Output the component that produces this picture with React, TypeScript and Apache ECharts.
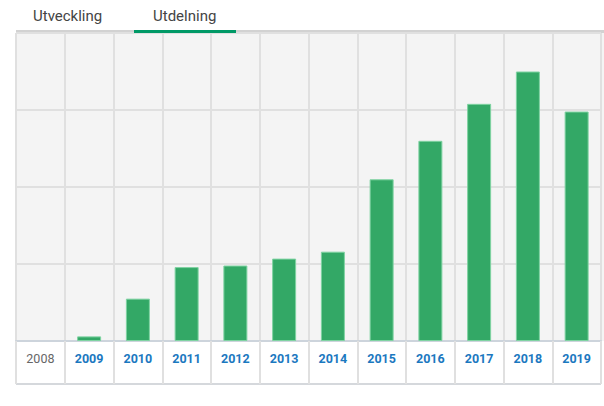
import React, { useEffect, useRef } from "react";
import * as echarts from "echarts";

const years = ["2008", "2009", "2010", "2011", "2012", "2013", "2014", "2015", "2016", "2017", "2018", "2019"];
const dividends = [null, 0.06, 0.55, 0.96, 0.98, 1.07, 1.16, 2.1, 2.6, 3.08, 3.5, 2.98];
const tabs = ["Utveckling", "Utdelning"];

export default function App() {
  const ref = useRef<HTMLDivElement>(null);
  useEffect(() => {
    const chart = echarts.init(ref.current!, null, { renderer: "svg" });
    chart.setOption({
      animation: false,
      grid: {
        left: 16,
        right: 3,
        top: 33,
        bottom: 65,
        show: true,
        backgroundColor: "#f4f4f4",
        borderWidth: 0,
      },
      xAxis: {
        type: "category",
        data: years,
        boundaryGap: true,
        axisLine: { show: true, lineStyle: { color: "#cdd4dc", width: 2 } },
        axisTick: { show: true, interval: 0, length: 43, lineStyle: { color: "#e0e0e0", width: 2 } },
        splitLine: { show: true, interval: 0, lineStyle: { color: "#e0e0e0", width: 2 } },
        axisLabel: {
          interval: 0,
          margin: 11,
          formatter: (v: string, i: number) => (i === 0 ? `{a|${v}}` : `{b|${v}}`),
          rich: {
            a: { fontFamily: "Roboto", fontSize: 12.5, color: "#666666" },
            b: { fontFamily: "Roboto", fontSize: 12.5, fontWeight: "bold", color: "#1b78bf" },
          },
        },
      },
      yAxis: {
        type: "value",
        min: 0,
        max: 4,
        interval: 1,
        axisLabel: { show: false },
        axisLine: { show: false },
        axisTick: { show: false },
        splitLine: { show: true, lineStyle: { color: "#e0e0e0", width: 2 } },
      },
      series: [
        {
          type: "bar",
          data: dividends,
          barWidth: 24,
          itemStyle: { color: "#33a866", borderColor: "#7fd3a2", borderWidth: 1 },
        },
      ],
      graphic: [
        { type: "rect", shape: { x: 601, y: 33, width: 3, height: 308 }, style: { fill: "#f4f4f4" }, z: -1 },
        { type: "rect", shape: { x: 16, y: 30, width: 588, height: 3 }, style: { fill: "#d2d2d2" } },
        { type: "rect", shape: { x: 134, y: 30, width: 102, height: 3 }, style: { fill: "#009966" }, z: 10 },
        { type: "line", shape: { x1: 16, y1: 33, x2: 16, y2: 384 }, style: { stroke: "#dcdcdc", lineWidth: 2 } },
        { type: "line", shape: { x1: 16, y1: 384, x2: 601, y2: 384 }, style: { stroke: "#d5d8dc", lineWidth: 2 } },
        {
          type: "text",
          x: 33,
          y: 16,
          style: { text: tabs[0], fontFamily: "Roboto", fontSize: 15, fill: "#444444", verticalAlign: "middle" },
        },
        {
          type: "text",
          x: 153,
          y: 16,
          style: { text: tabs[1], fontFamily: "Roboto", fontSize: 15, fill: "#444444", verticalAlign: "middle" },
        },
      ],
    });
    return () => chart.dispose();
  }, []);
  return <div ref={ref} style={{ position: "absolute", left: 0, top: 0, width: 604, height: 406 }} />;
}
